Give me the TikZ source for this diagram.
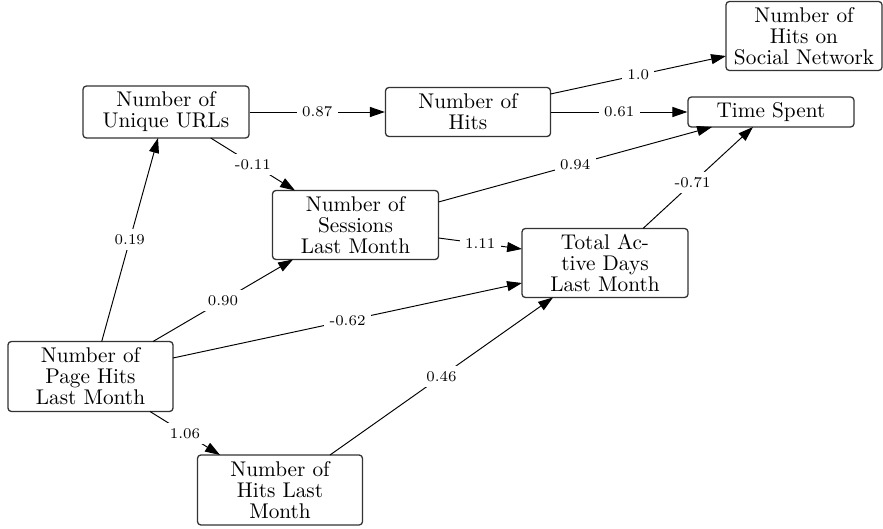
\documentclass[tikz,border=0pt]{standalone}
\usetikzlibrary{arrows.meta}
\begin{document}
\begin{tikzpicture}[x=0.47pt,y=-0.47pt,
  box/.style={draw=black!80, line width=0.6pt, rounded corners=1.6pt, align=center, inner sep=0pt, font=\fontsize{10}{9.9}\selectfont},
  sz/.style 2 args={minimum width=#1*0.47pt, minimum height=#2*0.47pt},
  edge/.style={line width=0.45pt, -{Triangle[length=7pt,width=4.7pt]}},
  lab/.style={fill=white, font=\scriptsize, inner sep=2.5pt}]
\useasboundingbox (0,0) rectangle (883,529);

\node[box, sz={166}{52}] (url) at (166,112) {Number of\\Unique URLs};
\node[box, sz={165}{49}] (hits) at (468,112) {Number of\\Hits};
\node[box, sz={156}{69}] (social) at (804,36) {Number of\\Hits on\\Social Network};
\node[box, sz={166}{30}] (time) at (771,112) {Time Spent};
\node[box, sz={166}{69}] (sess) at (355.5,225) {Number of\\Sessions\\Last Month};
\node[box, sz={166}{69}] (tad) at (605,263) {Total Ac-\\tive Days\\Last Month};
\node[box, sz={165}{70}] (page) at (90.5,376.5) {Number of\\Page Hits\\Last Month};
\node[box, sz={165}{70}] (hlm) at (280,490) {Number of\\Hits Last\\Month};

\draw[edge] (url.east) -- node[lab]{0.87} (hits.west);
\draw[edge] ([shift={(82.5,-18)}]hits.center) -- node[lab]{1.0} ([shift={(-78,20)}]social.center);
\draw[edge] (hits.east) -- node[lab]{0.61} (time.west);
\draw[edge] ([shift={(44.7,26)}]url.center) -- node[lab]{-0.11} ([shift={(-60.5,-34.5)}]sess.center);
\draw[edge] ([shift={(11.2,-35)}]page.center) -- node[lab]{0.19} ([shift={(-8,26)}]url.center);
\draw[edge] ([shift={(83,-23)}]sess.center) -- node[lab]{0.94} ([shift={(-59,15)}]time.center);
\draw[edge] ([shift={(83,13)}]sess.center) -- node[lab]{1.11} ([shift={(-83,-14)}]tad.center);
\draw[edge] ([shift={(62.5,-35)}]page.center) -- node[lab]{0.90} ([shift={(-62.5,34.5)}]sess.center);
\draw[edge] ([shift={(82.5,-18.5)}]page.center) -- node[lab]{-0.62} ([shift={(-83,20)}]tad.center);
\draw[edge] ([shift={(59.5,35)}]page.center) -- node[lab]{1.06} ([shift={(-60,-35)}]hlm.center);
\draw[edge] ([shift={(50,-35)}]hlm.center) -- node[lab]{0.46} ([shift={(-52,34.5)}]tad.center);
\draw[edge] ([shift={(38,-34.5)}]tad.center) -- node[lab,pos=0.45]{-0.71} ([shift={(-18,15)}]time.center);
\end{tikzpicture}
\end{document}
